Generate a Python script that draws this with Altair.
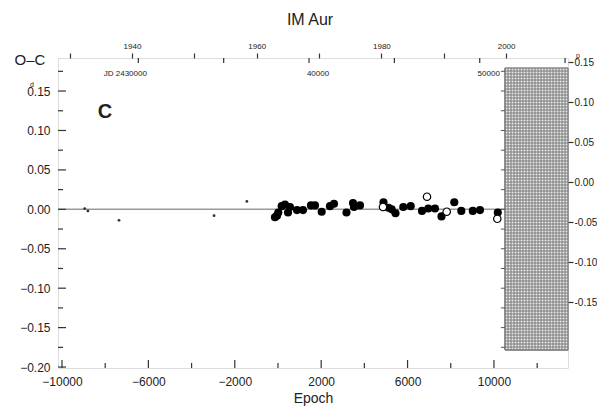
import altair as alt
import pandas as pd
import numpy as np

# ---------------- data ----------------
fill_epoch = [-140, -45, 15, 172, 325, 464, 556, 880, 1158, 1529, 1714, 2024, 2408, 2594,
              3172, 3473, 3520, 3797, 4885, 5117, 5265, 5441, 5802, 6145, 6668, 6960, 7270,
              7571, 8163, 8488, 9020, 9353, 10177]
fill_oc = [-0.010, -0.008, -0.004, 0.004, 0.006, -0.004, 0.003, -0.001, -0.001, 0.005, 0.005,
           -0.003, 0.004, 0.007, -0.004, 0.008, 0.003, 0.005, 0.009, 0.002, 0.000, -0.005,
           0.003, 0.004, -0.002, 0.001, 0.001, -0.009, 0.009, -0.002, -0.002, -0.001, -0.004]
open_epoch = [4862, 6900, 7812, 10154]
open_oc = [0.003, 0.016, -0.003, -0.012]
small_epoch = [-8950, -8800, -7360, -2960, -1440]
small_oc = [0.001, -0.002, -0.014, -0.008, 0.010]

x_major = [-10000, -6000, -2000, 2000, 6000, 10000]
x_minor = [-8000, -4000, 0, 4000, 8000, 12000]
y_left_major = [-0.20, -0.15, -0.10, -0.05, 0.00, 0.05, 0.10, 0.15]
y_left_minor = [-0.175, -0.125, -0.075, -0.025, 0.025, 0.075, 0.125, 0.175]
y_right_major = [-0.15, -0.10, -0.05, 0.00, 0.05, 0.10, 0.15]
year_ticks = [1930, 1940, 1950, 1960, 1970, 1980, 1990, 2000, 2010]
jd_ticks = [2430000, 2435000, 2440000, 2445000, 2450000, 2455000]
jd_first_value = [2430000]
jd_first_text = ["JD 2430000"]
jd_other_values = [2440000, 2450000]
jd_other_text = ["40000", "50000"]
hatch_x = [10511, 13428]
hatch_y = [-0.21, 0.1425]
hatch_tick_y = [0.175, 0.15, 0.125, 0.10, 0.075, 0.05, 0.025, 0.0, -0.025, -0.05, -0.075,
                -0.10, -0.125, -0.15, -0.175]

# ---------------- scales / layout ----------------
EPOCH_DOM = [-10185, 13428]
OC_DOM = [-0.2012, 0.1919]
RIGHT_DOM = [-0.2325, 0.155]
YEAR_DOM = [1928.13, 2009.93]
JD_DOM = [2425294, 2455171]
W, H = 510, 310
FONT = "Liberation Sans"
INK = "#222222"


def ex(field, axis=None):
    return alt.X(field, type="quantitative",
                 scale=alt.Scale(domain=EPOCH_DOM, nice=False, zero=False), axis=axis)


def ey(field, axis=None):
    return alt.Y(field, type="quantitative",
                 scale=alt.Scale(domain=OC_DOM, nice=False, zero=False), axis=axis)


def ry(field, axis=None):
    return alt.Y(field, type="quantitative",
                 scale=alt.Scale(domain=RIGHT_DOM, nice=False, zero=False), axis=axis)


def jx(field):
    return alt.X(field, type="quantitative",
                 scale=alt.Scale(domain=JD_DOM, nice=False, zero=False), axis=None)


bottom_axis = alt.Axis(orient="bottom", values=x_major, format="d", ticks=False, domain=False,
                       grid=False, labelFont=FONT, labelFontSize=12, labelColor=INK,
                       labelPadding=8, title="Epoch", titleFont=FONT, titleFontSize=14,
                       titleFontWeight="normal", titleColor=INK, titlePadding=4)
left_axis = alt.Axis(orient="left", values=y_left_major, format=".2f", ticks=False, domain=False,
                     grid=False, labelFont=FONT, labelFontSize=12, labelColor=INK,
                     labelPadding=8, title=None)
right_axis = alt.Axis(orient="right", values=y_right_major, format=".2f",
                      labelExpr="replace(format(datum.value, '.2f'), '\u2212', '-')",
                      ticks=True, tickSize=5, tickColor="#333333", tickWidth=1.2, domain=False,
                      grid=False, labelFont=FONT, labelFontSize=10, labelColor=INK,
                      labelPadding=1, title=None)
top_axis = alt.Axis(orient="top", values=year_ticks,
                    labelExpr="datum.value % 20 == 0 ? datum.value + '' : ''",
                    ticks=True, tickSize=5, tickColor="#333333", tickWidth=1.2, domain=False,
                    grid=False, labelFont=FONT, labelFontSize=8, labelColor=INK,
                    labelPadding=3, title=None)

fill_df = pd.DataFrame({"epoch": fill_epoch, "oc": fill_oc})
open_df = pd.DataFrame({"epoch": open_epoch, "oc": open_oc})
small_df = pd.DataFrame({"epoch": small_epoch, "oc": small_oc})

# zero line
zero = alt.Chart(pd.DataFrame({"oc": [0.0]})).mark_rule(color="#9a9a9a", strokeWidth=1.5).encode(
    y=ey("oc"))

# hatched panel on the right
hatch_bg = alt.Chart(pd.DataFrame({"x": [hatch_x[0]], "x2": [hatch_x[1]],
                                   "y": [hatch_y[0]], "y2": [hatch_y[1]]})).mark_rect(
    fill="#ebebeb", stroke="#555555", strokeWidth=1).encode(
    x=ex("x"), x2="x2", y=ry("y"), y2="y2")
vx = np.arange(hatch_x[0], hatch_x[1], 139.0)
hv = alt.Chart(pd.DataFrame({"x": vx, "y": hatch_y[0], "y2": hatch_y[1]})).mark_rule(
    color="#7a7a7a", strokeWidth=1).encode(x=ex("x"), y=ry("y"), y2="y2")
hy = np.arange(hatch_y[0], hatch_y[1], 0.00375)
hh = alt.Chart(pd.DataFrame({"y": hy, "x": hatch_x[0], "x2": hatch_x[1]})).mark_rule(
    color="#7a7a7a", strokeWidth=1).encode(y=ry("y"), x=ex("x"), x2="x2")
htick = alt.Chart(pd.DataFrame({"y": hatch_tick_y, "x": hatch_x[0] - 190, "x2": hatch_x[0]})).mark_rule(
    color="#555555", strokeWidth=1).encode(y=ey("y"), x=ex("x"), x2="x2")

# points
small = alt.Chart(small_df).mark_circle(size=8, color="#333333", opacity=1).encode(
    x=ex("epoch"), y=ey("oc"))
filled = alt.Chart(fill_df).mark_circle(size=66, color="black", opacity=1).encode(
    x=ex("epoch", bottom_axis), y=ey("oc", left_axis))
opened = alt.Chart(open_df).mark_point(shape="circle", filled=True, fill="white", stroke="black",
                                       strokeWidth=1.2, size=55, opacity=1).encode(
    x=ex("epoch"), y=ey("oc"))

# inward ticks: bottom and left
bt_major = alt.Chart(pd.DataFrame({"e": x_major})).mark_rule(color="#333333", strokeWidth=1.2).encode(
    x=ex("e"), y=alt.value(H), y2=alt.value(H - 8))
bt_minor = alt.Chart(pd.DataFrame({"e": x_minor})).mark_rule(color="#333333", strokeWidth=1.2).encode(
    x=ex("e"), y=alt.value(H), y2=alt.value(H - 5))
lt_major = alt.Chart(pd.DataFrame({"v": y_left_major})).mark_rule(color="#333333", strokeWidth=1.2).encode(
    y=ey("v"), x=alt.value(0), x2=alt.value(8))
lt_minor = alt.Chart(pd.DataFrame({"v": y_left_minor})).mark_rule(color="#333333", strokeWidth=1.2).encode(
    y=ey("v"), x=alt.value(0), x2=alt.value(5))

# right axis carrier
right_carrier = alt.Chart(pd.DataFrame({"v": y_right_major})).mark_tick(opacity=0).encode(
    y=ry("v", right_axis), x=alt.value(W))

# top year axis carrier
top_carrier = alt.Chart(pd.DataFrame({"year": year_ticks})).mark_tick(opacity=0).encode(
    x=alt.X("year", type="quantitative", scale=alt.Scale(domain=YEAR_DOM, nice=False, zero=False),
            axis=top_axis), y=alt.value(0))

# JD ticks and labels (inside, under top frame)
jd_t = alt.Chart(pd.DataFrame({"jd": jd_ticks})).mark_rule(color="#333333", strokeWidth=1.2).encode(
    x=jx("jd"), y=alt.value(0), y2=alt.value(5))
jd_l1 = alt.Chart(pd.DataFrame({"jd": jd_first_value, "t": jd_first_text})).mark_text(
    font=FONT, fontSize=8, color=INK, align="center", dx=-13).encode(
    x=jx("jd"), y=alt.value(16), text="t")
jd_l2 = alt.Chart(pd.DataFrame({"jd": jd_other_values, "t": jd_other_text})).mark_text(
    font=FONT, fontSize=8, color=INK, align="center", dx=9).encode(
    x=jx("jd"), y=alt.value(16), text="t")


# texts
def label(t, x, y, size, weight="normal", align="center"):
    return alt.Chart(pd.DataFrame({"t": [t]})).mark_text(
        font=FONT, fontSize=size, fontWeight=weight, color=INK, align=align, baseline="middle").encode(
        text="t", x=alt.value(x), y=alt.value(y))


title = label("IM Aur", 252, -38, 16)
oc_title = label("O\u2013C", -28, 2, 15)
c_lab = label("C", 47, 54, 20, weight="bold")
sup_l = alt.Chart(pd.DataFrame({"v": [0.15], "t": ["d"]})).mark_text(
    font=FONT, fontSize=7, color=INK, dy=-6).encode(y=ey("v"), x=alt.value(-26), text="t")
sup_r = alt.Chart(pd.DataFrame({"v": [0.15], "t": ["p"]})).mark_text(
    font=FONT, fontSize=7, color=INK, dy=-6).encode(y=ry("v"), x=alt.value(520), text="t")

chart = alt.layer(
    zero, hatch_bg, hv, hh, htick, small, filled, opened,
    bt_major, bt_minor, lt_major, lt_minor,
    right_carrier, top_carrier, jd_t, jd_l1, jd_l2,
    title, oc_title, c_lab, sup_l, sup_r,
).resolve_scale(x="independent", y="independent").properties(
    width=W, height=H,
    padding={"left": 50, "top": 50, "right": 29, "bottom": 41},
    autosize=alt.AutoSizeParams(type="none"),
).configure_view(stroke="#333333", strokeWidth=1.5).configure(background="white")

chart.save("out.html", embed_options={"renderer": "svg", "actions": False})
